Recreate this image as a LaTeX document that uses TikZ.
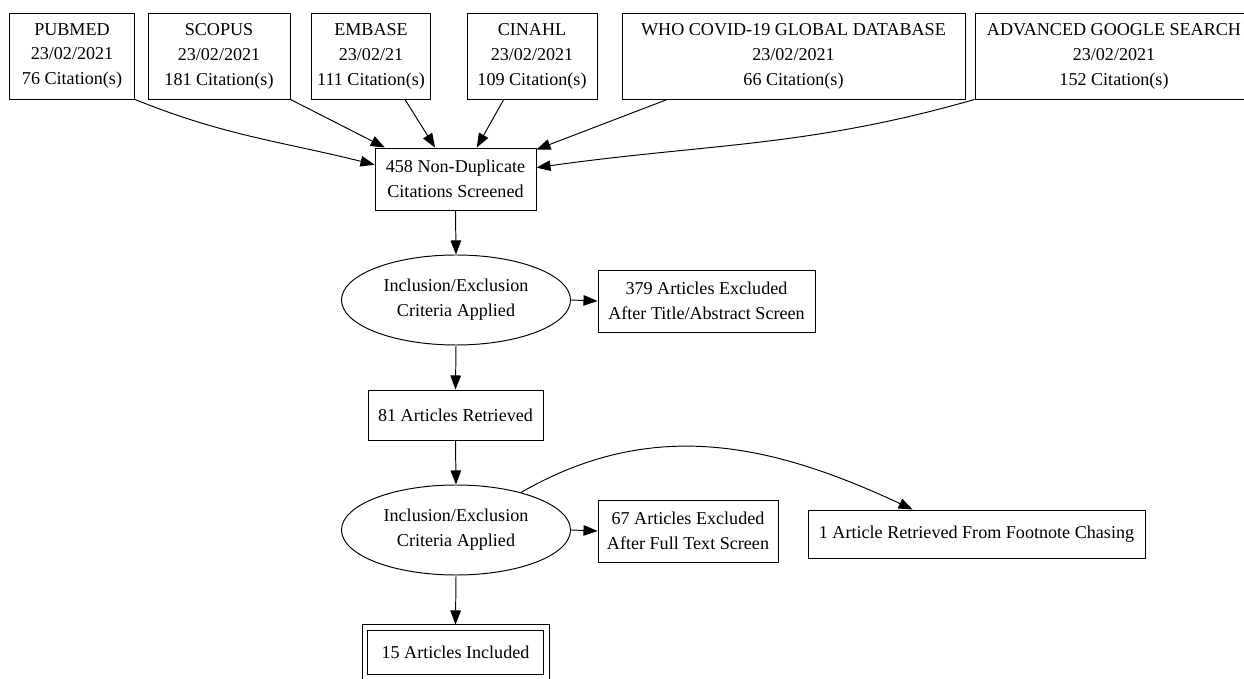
\documentclass[tikz,border=0pt]{standalone}
\usepackage{fontspec}
\setmainfont{Liberation Serif}
\usetikzlibrary{shapes.geometric, arrows.meta}

\begin{document}
\begin{tikzpicture}[
  font=\fontsize{10.3}{14.2}\selectfont,
  line width=0.55pt,
  box/.style={draw, rectangle, align=center, minimum height=1.24cm},
  src/.style={box, minimum height=1.72cm},
  crit/.style={draw, ellipse, align=center, minimum width=4.58cm,
               minimum height=1.8cm, inner sep=0pt},
  final/.style={box, minimum height=0.88cm},
  arr/.style={-{Triangle[length=8pt, width=6pt]}}
]
  \useasboundingbox (0,0) rectangle (24.88,-13.58);

  % Sources (top row)
  \node[src, minimum width=2.5cm]  (pubmed) at (1.44,-1.12)  {PUBMED\\23/02/2021\\76 Citation(s)};
  \node[src, minimum width=2.84cm] (scopus) at (4.38,-1.12)  {SCOPUS\\23/02/2021\\181 Citation(s)};
  \node[src, minimum width=2.36cm] (embase) at (7.42,-1.12)  {EMBASE\\23/02/21\\111 Citation(s)};
  \node[src, minimum width=2.6cm]  (cinahl) at (10.64,-1.12) {CINAHL\\23/02/2021\\109 Citation(s)};
  \node[src, minimum width=6.86cm] (who)    at (15.87,-1.12) {WHO COVID-19 GLOBAL DATABASE\\23/02/2021\\66 Citation(s)};
  \node[src, minimum width=5.56cm] (google) at (22.28,-1.12) {ADVANCED GOOGLE SEARCH\\23/02/2021\\152 Citation(s)};

  % Screening column
  \node[box, minimum width=3.22cm] (screen) at (9.11,-3.58)  {458 Non-Duplicate\\Citations Screened};
  \node[crit] (crit1) at (9.12,-6.0)  {Inclusion/Exclusion\\Criteria Applied};
  \node[box, minimum width=4.34cm] (excl1)  at (14.13,-6.02) {379 Articles Excluded\\After Title/Abstract Screen};
  \node[box, minimum width=3.5cm, minimum height=1.0cm] (retr) at (9.11,-8.3) {81 Articles Retrieved};
  \node[crit] (crit2) at (9.12,-10.6) {Inclusion/Exclusion\\Criteria Applied};
  \node[box, minimum width=3.6cm]  (excl2)  at (13.76,-10.62) {67 Articles Excluded\\After Full Text Screen};
  \node[box, minimum width=6.74cm, minimum height=0.96cm] (chase) at (19.53,-10.68) {1 Article Retrieved From Footnote Chasing};
  \node[final, minimum width=3.52cm] (incl) at (9.11,-13.04) {15 Articles Included};
  % outer frame of the final box
  \draw ([shift={(-0.1,-0.1)}]incl.south west) rectangle ([shift={(0.1,0.1)}]incl.north east);

  % Sources to screening
  \draw[arr] (pubmed.south east) to[out=-22, in=166] (screen.170);
  \draw[arr] (scopus.south east) -- (screen.156);
  \draw[arr] (embase.-52) -- (screen.123);
  \draw[arr] (cinahl.237) -- (screen.56);
  \draw[arr] (who.199) -- (screen.20);
  \draw[arr] (google.south west) to[out=196, in=8] (screen.8);

  % Down the column
  \draw[arr] (screen.south) -- (crit1.north);
  \draw[arr] (crit1.east) -- (excl1.west);
  \draw[arr] (crit1.south) -- (retr.north);
  \draw[arr] (retr.south) -- (crit2.north);
  \draw[arr] (crit2.east) -- (excl2.west);
  \draw[arr] (crit2.30) to[out=30, in=155] (chase.159);
  \draw[arr] (crit2.south) -- ([yshift=0.1cm]incl.north);

\end{tikzpicture}
\end{document}
